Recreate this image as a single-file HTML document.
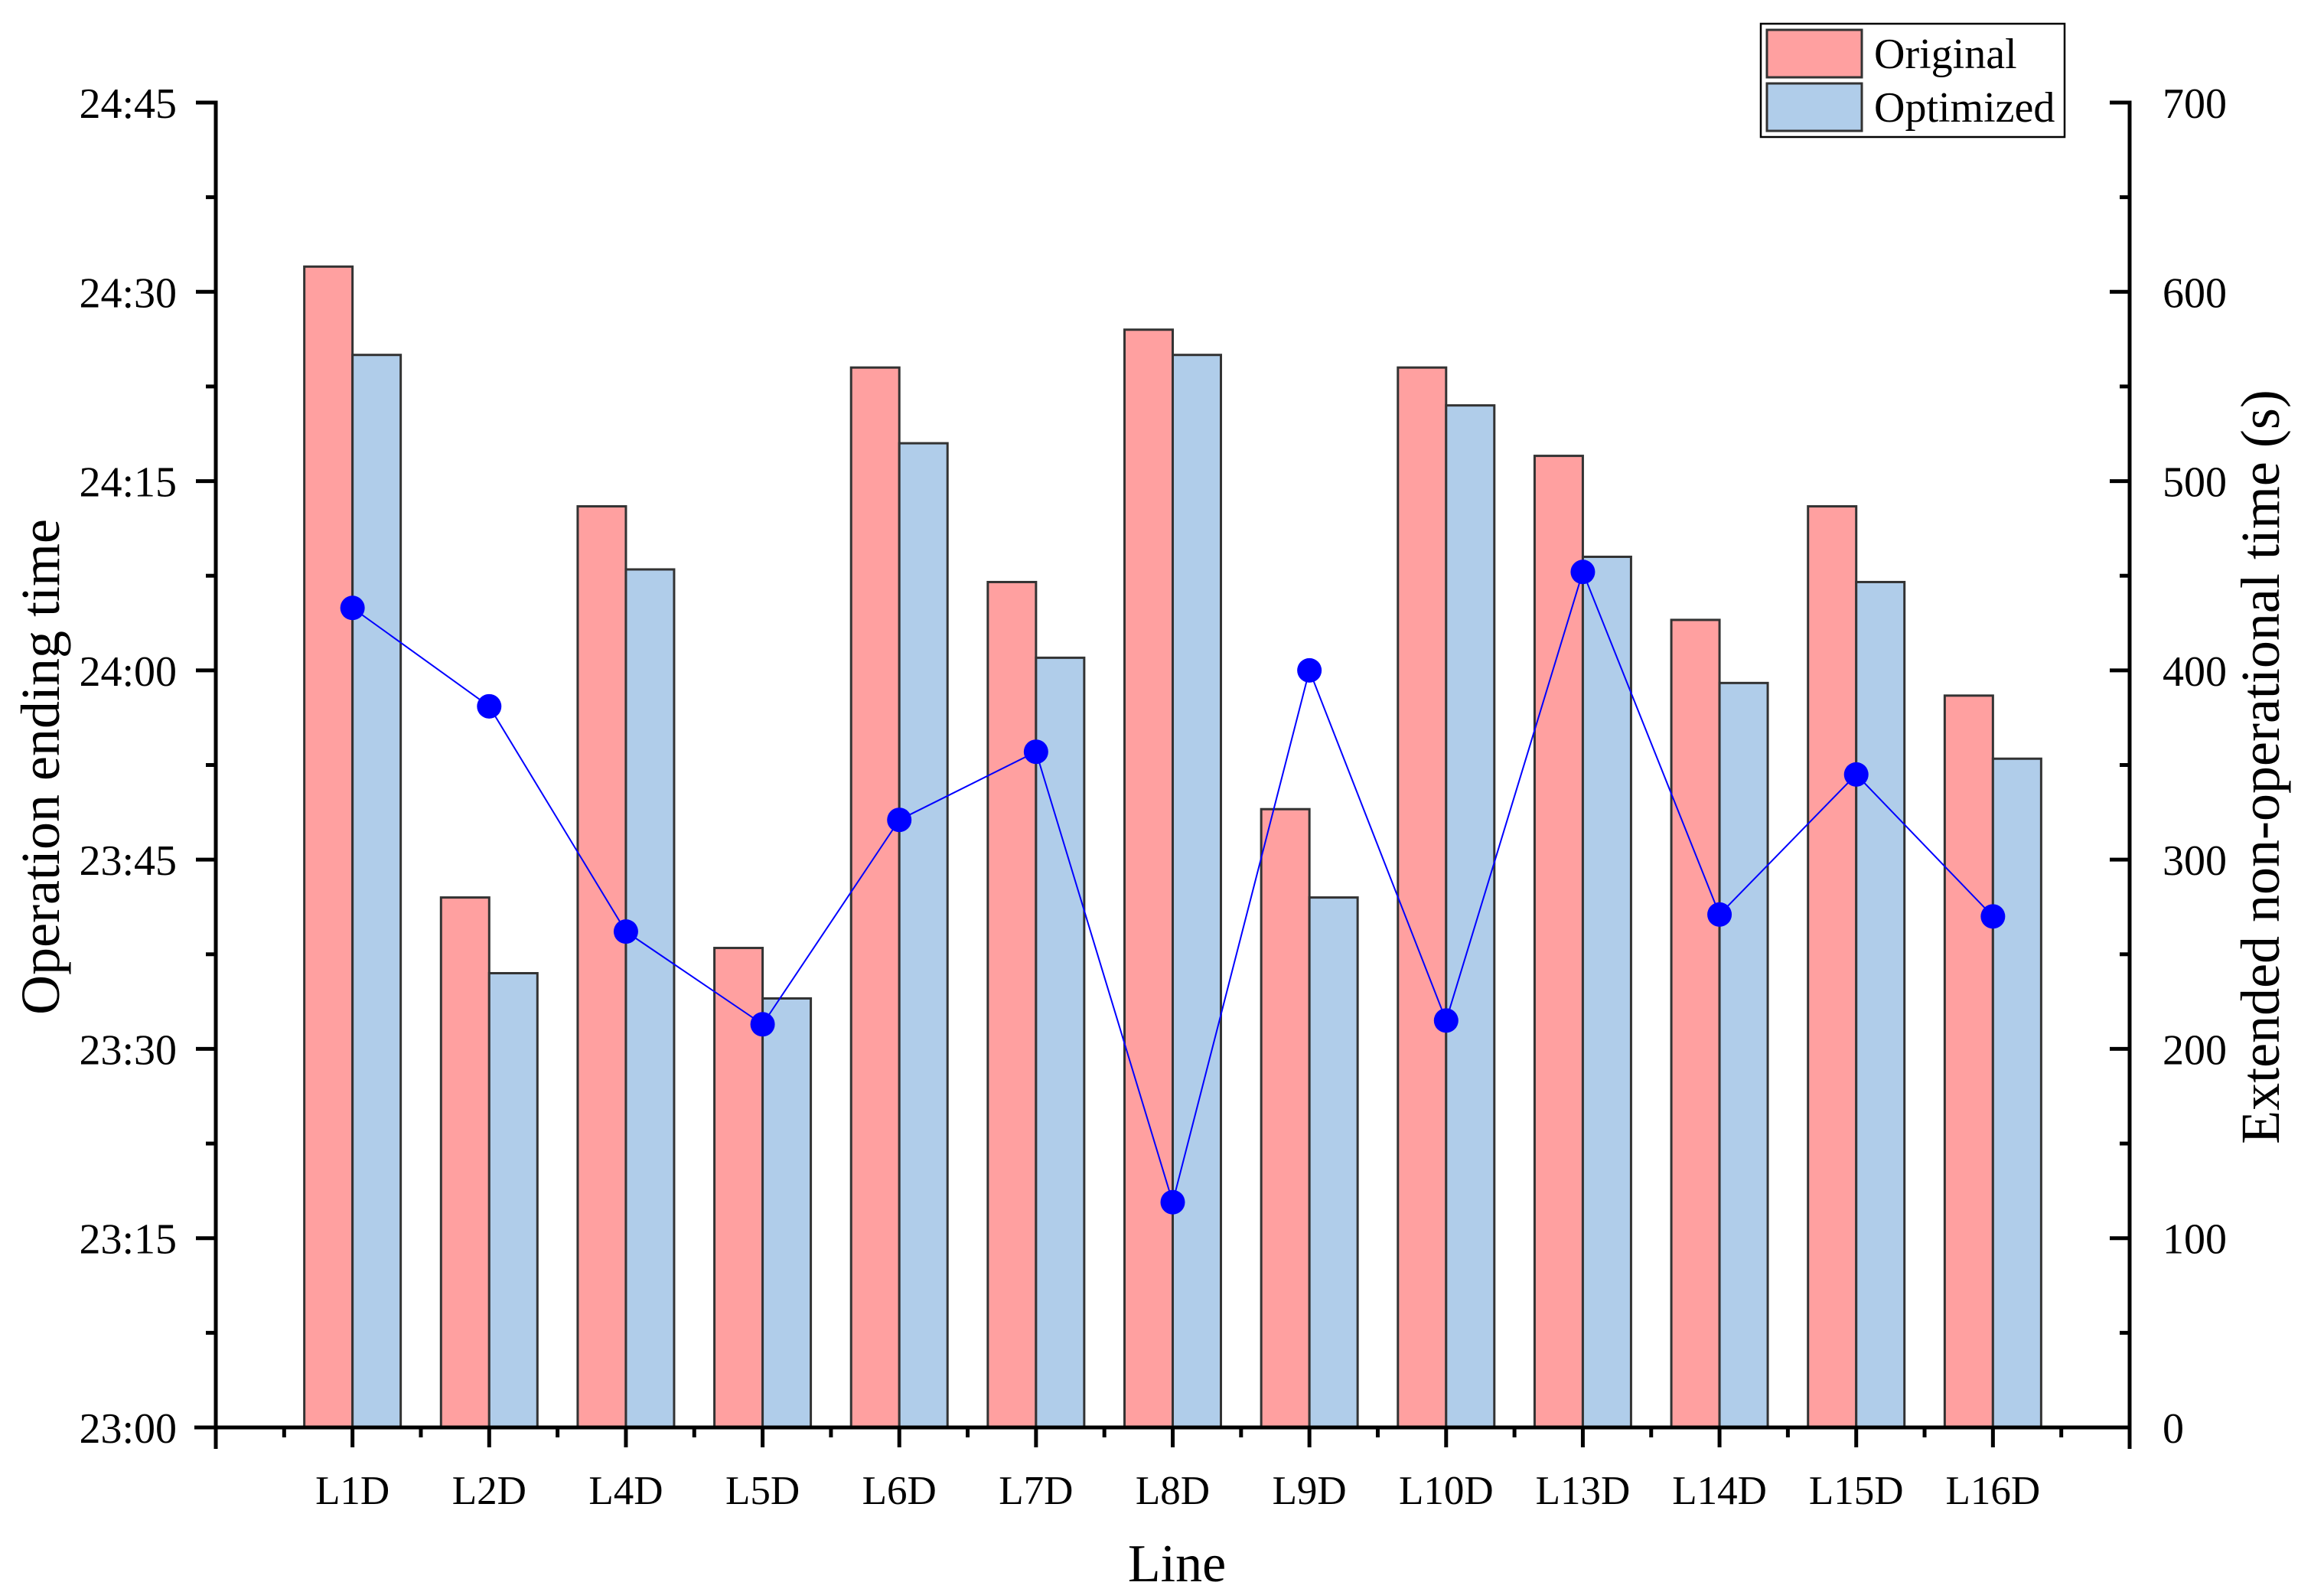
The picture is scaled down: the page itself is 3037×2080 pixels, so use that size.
<!DOCTYPE html>
<html><head><meta charset="utf-8"><style>
html,body{margin:0;padding:0;background:#fff}
svg{display:block}
text{font-family:"Liberation Serif",serif;fill:#000}
</style></head><body>
<svg id="chart" width="3037" height="2080" viewBox="0 0 3037 2080" xmlns="http://www.w3.org/2000/svg">
<g id="bars"></g>
<g id="line"></g>
<g id="axes"></g>
<g>
<rect x="2301" y="31" width="397" height="148" fill="#fff" stroke="#000" stroke-width="2.5"/>
<rect x="2309" y="39" width="124" height="62" fill="#FFA0A0" stroke="#333" stroke-width="3"/>
<rect x="2309" y="109" width="124" height="62" fill="#B0CDEA" stroke="#333" stroke-width="3"/>
<text x="2449" y="89" font-size="56">Original</text>
<text x="2449" y="159" font-size="56">Optimized</text>
</g>
<text x="1538" y="2066" font-size="70" text-anchor="middle">Line</text>
<text transform="translate(77,1002) rotate(-90)" font-size="72" text-anchor="middle">Operation ending time</text>
<text transform="translate(2978,1002) rotate(-90)" font-size="72" text-anchor="middle">Extended non-operational time (s)</text>
</svg>
<script>
const categories = ["L1D","L2D","L4D","L5D","L6D","L7D","L8D","L9D","L10D","L13D","L14D","L15D","L16D"];
// minutes after 23:00
const originalMinutes = [92,42,73,38,84,67,87,49,84,77,64,73,58];
const optimizedMinutes = [85,36,68,34,78,61,85,42,81,69,59,67,53];
const extendedSeconds = [433,381,262,213,321,357,119,400,215,452,271,345,270];
const leftTickLabels = ["23:00","23:15","23:30","23:45","24:00","24:15","24:30","24:45"];
const rightTickLabels = ["0","100","200","300","400","500","600","700"];

const NS = "http://www.w3.org/2000/svg";
const X0 = 282, X1 = 2783, Y0 = 1865, Y1 = 134;
const xScale = i => X0 + (i + 1) * (X1 - X0) / 14;
const yLeft = m => Y0 - m * (Y0 - Y1) / 105;
const yRight = s => Y0 - s * (Y0 - Y1) / 700;
const BW = 63;
function mk(tag, attrs, parent) {
  const e = document.createElementNS(NS, tag);
  for (const k in attrs) e.setAttribute(k, attrs[k]);
  parent.appendChild(e);
  return e;
}
const gb = document.getElementById('bars');
categories.forEach((c, i) => {
  const x = xScale(i);
  let r = mk('rect', {x: x - BW, y: yLeft(originalMinutes[i]), width: BW, height: Y0 - yLeft(originalMinutes[i]), fill: '#FFA0A0', stroke: '#333', 'stroke-width': 3}, gb);
  
  
  r = mk('rect', {x: x, y: yLeft(optimizedMinutes[i]), width: BW, height: Y0 - yLeft(optimizedMinutes[i]), fill: '#B0CDEA', stroke: '#333', 'stroke-width': 3}, gb);
  
  
});
const gl = document.getElementById('line');
const pts = extendedSeconds.map((s, i) => xScale(i) + ',' + yRight(s)).join(' ');
const pl = mk('polyline', {points: pts, fill: 'none', stroke: '#0000FF', 'stroke-width': 2}, gl);


extendedSeconds.forEach((s, i) => {
  const c = mk('circle', {cx: xScale(i), cy: yRight(s), r: 16, fill: '#0000FF'}, gl);
  
  
});
const ga = document.getElementById('axes');
const st = {stroke: '#000', 'stroke-width': 5};
let ln = mk('line', Object.assign({x1: X0, y1: Y0 + 28, x2: X0, y2: Y1 - 2.5}, st), ga);


ln = mk('line', Object.assign({x1: X1, y1: Y0 + 28, x2: X1, y2: Y1 - 2.5}, st), ga);


ln = mk('line', Object.assign({x1: X0 - 28, y1: Y0, x2: X1 + 2.5, y2: Y0}, st), ga);


leftTickLabels.forEach((t, k) => {
  const y = yLeft(k * 15);
  mk('line', Object.assign({x1: X0 - 26, y1: y, x2: X0, y2: y}, st), ga);
  if (k < 7) { const ym = yLeft(k * 15 + 7.5); mk('line', Object.assign({x1: X0 - 13, y1: ym, x2: X0, y2: ym}, st), ga); }
  const tx = mk('text', {x: 231, y: y + 20, 'font-size': 56, 'text-anchor': 'end'}, ga);
  tx.textContent = t;
  
  
});
rightTickLabels.forEach((t, k) => {
  const y = yRight(k * 100);
  mk('line', Object.assign({x1: X1 - 26, y1: y, x2: X1, y2: y}, st), ga);
  if (k < 7) { const ym = yRight(k * 100 + 50); mk('line', Object.assign({x1: X1 - 13, y1: ym, x2: X1, y2: ym}, st), ga); }
  const tx = mk('text', {x: 2826, y: y + 20, 'font-size': 56}, ga);
  tx.textContent = t;
  
  
});
for (let i = -1; i <= 13; i++) {
  const x = xScale(i);
  mk('line', Object.assign({x1: x, y1: Y0, x2: x, y2: Y0 + 26}, st), ga);
  if (i < 13) { const xm = (x + xScale(i + 1)) / 2; mk('line', Object.assign({x1: xm, y1: Y0, x2: xm, y2: Y0 + 13}, st), ga); }
}
categories.forEach((c, i) => {
  const tx = mk('text', {x: xScale(i), y: 1965, 'font-size': 53, 'text-anchor': 'middle'}, ga);
  tx.textContent = c;
  
  
});
</script>
</body></html>
